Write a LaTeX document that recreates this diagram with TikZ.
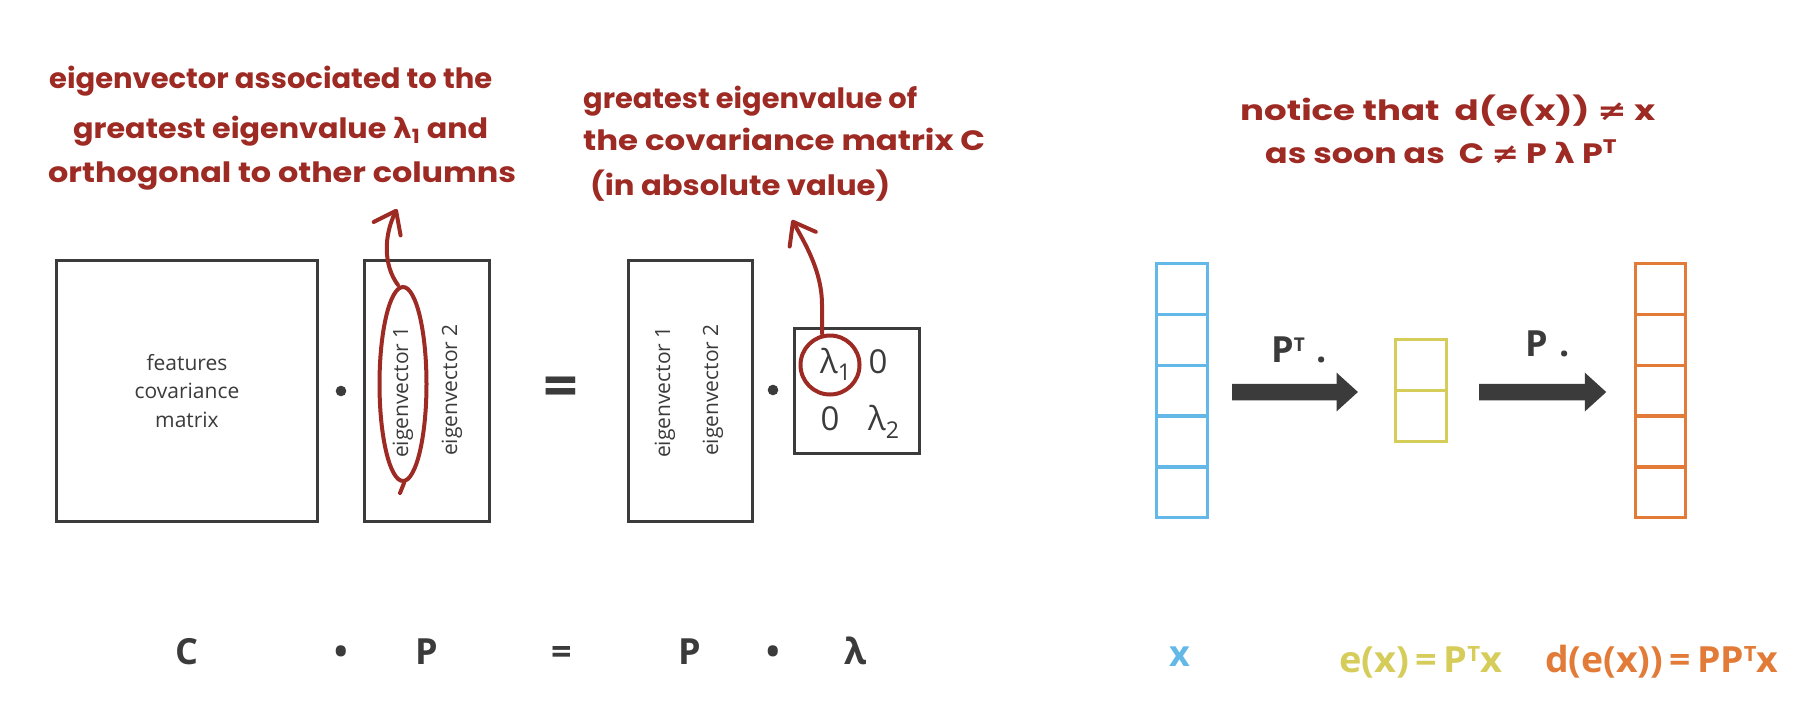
\documentclass[tikz,border=0pt]{standalone}
\usepackage{graphicx}
\usepackage{fontspec}
\setmainfont{Open Sans}
\newfontfamily\hand{Poppins}
\newfontfamily\sym{DejaVu Sans}
\usetikzlibrary{arrows.meta,shapes.geometric}
\definecolor{dk}{HTML}{3B3B3B}
\definecolor{rd}{HTML}{9E2A24}
\definecolor{bl}{HTML}{63B8E8}
\definecolor{yl}{HTML}{D6CC59}
\definecolor{og}{HTML}{E27B37}
\newcommand\fitw[2]{\resizebox{#1}{\height}{#2}}
\tikzset{
  mbox/.style={draw=dk, line width=3pt, inner sep=0pt, outer sep=0pt},
  lbl/.style={text=dk, font=\fontsize{21}{28.5}\selectfont, inner sep=0pt},
  ent/.style={text=dk, font=\fontsize{33}{36}\selectfont, inner sep=0pt, anchor=base},
  hw/.style={text=rd, font=\hand\bfseries\fontsize{28}{30}\selectfont, inner sep=0pt, anchor=base west},
  ann/.style={draw=rd, line width=4pt, line cap=round, line join=round},
  cell/.style={draw=#1, line width=3.2pt, inner sep=0pt, outer sep=0pt, minimum width=51pt, minimum height=50.9pt},
  bigarrow/.style={draw=dk, line width=16.5pt, -{Triangle[length=21.5pt,width=37.5pt]}},
  fml/.style={font=\bfseries\fontsize{36}{40}\selectfont, inner sep=0pt},
  opdot/.style={circle, fill=dk, minimum size=10.6pt, inner sep=0pt},
}
\newcommand\supT[1]{\raisebox{#1}{\fontsize{21}{21}\selectfont T}}
\begin{document}
\begin{tikzpicture}[x=1pt,y=-1pt]
\useasboundingbox (0,0) rectangle (1815,723);
\fill[white] (0,0) rectangle (1815,723);

% ---- left equation boxes
\node[mbox, minimum width=261pt, minimum height=260.3pt, lbl, align=center] (C) at (187,391) {features\\covariance\\matrix};
\node[opdot] (d1) at (341,391) {};
\node[mbox, minimum width=125pt, minimum height=260.3pt] (P1) at (427,391) {};
\node[lbl, rotate=90] (p1a) at (403,392) {eigenvector 1};
\node[lbl, rotate=90] (p1b) at (452,390) {eigenvector 2};
\node[text=dk, font=\bfseries\fontsize{61}{61}\selectfont, inner sep=0pt] (eq) at (561,392) {=};
\node[mbox, minimum width=124pt, minimum height=260.3pt] (P2) at (690,391) {};
\node[lbl, rotate=90] (p2a) at (665,392) {eigenvector 1};
\node[lbl, rotate=90] (p2b) at (713,390) {eigenvector 2};
\node[opdot] (d2) at (773,390) {};
\node[mbox, minimum width=125.7pt, minimum height=125.3pt] (L) at (857,390.7) {};
\node[ent, anchor=base west] (l1) at (820,373) {λ\textsubscript{1}};
\node[ent] (z1) at (878,373) {0};
\node[ent] (z2) at (830,430) {0};
\node[ent, anchor=base west] (l2) at (868,430) {λ\textsubscript{2}};

% ---- red annotations
\node[ellipse, draw=rd, line width=4pt, minimum width=47pt, minimum height=194pt, inner sep=0pt] (ell) at (403,384) {};
\draw[ann] ([xshift=1pt]ell.south) -- ++(-4,10);
\coordinate (t1) at (397,209);
\draw[ann, -{Straight Barb[length=20pt,width=30pt,line cap=round,line join=round]}]
  ([xshift=-5pt]ell.north) .. controls (383,265) and (384,235) .. (t1);

\node[circle, draw=rd, line width=4pt, minimum size=59pt, inner sep=0pt] (ring) at (830,365) {};
\coordinate (t2) at (792,220);
\draw[ann, -{Straight Barb[length=20pt,width=30pt,line cap=round,line join=round]}]
  ([xshift=-8pt]ring.north) -- (822,305) .. controls (822,272) and (806,245) .. (t2);

\node[hw] (a1a) at (49,88) {\fitw{443pt}{eigenvector associated to the}};
\node[hw] (a1b) at (73,138) {\fitw{415pt}{greatest eigenvalue {\sym λ}\textsubscript{1} and}};
\node[hw] (a1c) at (48,182) {\fitw{468pt}{orthogonal to other columns}};

\node[hw] (a2a) at (583,108) {\fitw{334pt}{greatest eigenvalue of}};
\node[hw] (a2b) at (583,150) {\fitw{402pt}{the covariance matrix C}};
\node[hw] (a2c) at (590,195) {\fitw{300pt}{(in absolute value)}};

\node[hw] (a3a) at (1240,120) {\fitw{415pt}{notice that\ \ d(e(x)) {\sym ≠} x}};
\node[hw] (a3b) at (1265,163) {\fitw{352pt}{as soon as\ \ C {\sym ≠} P {\sym λ} P\textsuperscript{T}}};

% ---- bottom equation
\node[fml, text=dk, anchor=base] (bC) at (187,664) {C};
\node[fml, text=dk, anchor=base] (bd1) at (341,664) {•};
\node[fml, text=dk, anchor=base] (bP1) at (427,664) {P};
\node[fml, text=dk, anchor=base] (beq) at (562,664) {=};
\node[fml, text=dk, anchor=base] (bP2) at (690,664) {P};
\node[fml, text=dk, anchor=base] (bd2) at (773,664) {•};
\node[fml, text=dk, anchor=base] (bl) at (856,664) {λ};

% ---- right: encoder / decoder
\foreach \i in {1,...,5} {
  \node[cell=bl] (b\i) at (1182,{263.3+50.9*(\i-0.5)}) {};
  \node[cell=og, minimum width=50pt] (o\i) at (1660.3,{263.3+50.9*(\i-0.5)}) {};
}
\foreach \i in {1,2} {
  \node[cell=yl, minimum height=51.2pt] (y\i) at (1421,{339.3+51.2*(\i-0.5)}) {};
}
\draw[bigarrow] ([xshift=24.5pt,yshift=-1.5pt]b3.east) -- ([xshift=-37.5pt,yshift=-1.5pt]y1.south west);
\draw[bigarrow] ([xshift=32.5pt,yshift=-1.5pt]y1.south east) -- ([xshift=-29pt,yshift=-1.5pt]o3.west);
\node[fml, text=dk, anchor=base west] (pt) at (1271,362) {P\raisebox{11pt}{\fontsize{19}{19}\selectfont T}\,\,.};
\node[fml, text=dk, anchor=base west] (pp) at (1525,356) {P\,\,.};

\node[fml, text=bl, anchor=base] (xl) at (1180,666) {x};
\node[fml, text=yl, anchor=base west] (el) at (1339,672) {\fitw{163pt}{e(x)\,=\,P\supT{11pt}x}};
\node[fml, text=og, anchor=base west] (dl) at (1545,672) {\fitw{233pt}{d(e(x))\,=\,PP\supT{11pt}x}};
\end{tikzpicture}
\end{document}
